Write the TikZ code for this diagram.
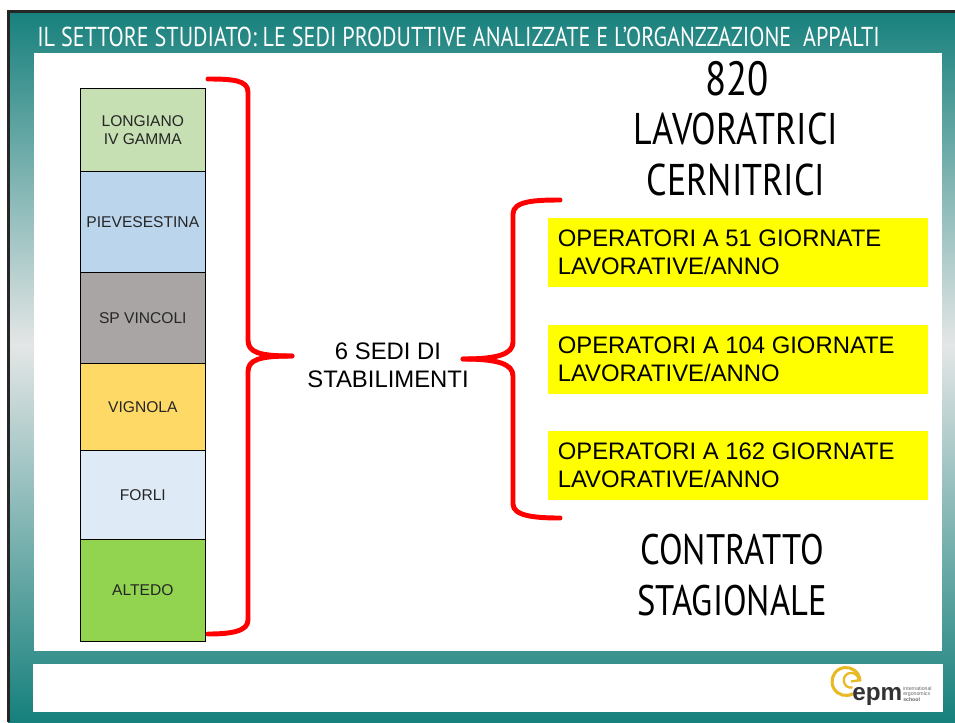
\documentclass[tikz,border=0pt]{standalone}
\usepackage{fontspec}
\setmainfont{Liberation Sans}
\newfontfamily\narrowfont[FakeStretch=0.81]{PT Sans}
\newfontfamily\logofont{Liberation Sans}
\definecolor{tealdark}{HTML}{16807C}
\definecolor{tealmid}{HTML}{E4E6E6}
\definecolor{redbr}{HTML}{FF0000}
\definecolor{ylw}{HTML}{FFFF00}
\definecolor{cLong}{HTML}{C6DFB3}
\definecolor{cPiev}{HTML}{BBD5ED}
\definecolor{cVinc}{HTML}{AAA5A5}
\definecolor{cVign}{HTML}{FFD966}
\definecolor{cForl}{HTML}{DEEAF6}
\definecolor{cAlte}{HTML}{92D350}
\definecolor{gold}{HTML}{E8B923}
\tikzset{
  x=0.75pt,y=-0.75pt,
  site/.style={draw=black,line width=0.8pt,minimum width=93.4pt,inner sep=0pt,align=center,text=black!85,
    font=\fontsize{11.7}{13.1}\selectfont,anchor=north west},
  opbox/.style={fill=ylw,minimum width=285pt,minimum height=51.75pt,inner sep=0pt,anchor=north west},
  optext/.style={anchor=west,align=left,inner sep=0pt,font=\fontsize{17.9}{21.2}\selectfont},
  bigtext/.style={inner sep=0pt,align=center,font=\narrowfont\fontsize{32}{36}\selectfont},
  bigtextb/.style={inner sep=0pt,align=center,font=\narrowfont\fontsize{33.3}{36}\selectfont},
  brace/.style={draw=redbr,line width=3.7pt,line cap=round,line join=round},
}
\begin{document}
\begin{tikzpicture}
\useasboundingbox (0,0) rectangle (955,722);
\fill[white] (0,0) rectangle (955,722);
% background
\shade[top color=tealdark,bottom color=tealmid] (8,10) rectangle (955,345);
\shade[top color=tealmid,bottom color=tealdark] (8,345) rectangle (955,722);
\fill[black!85] (7,10) rectangle (955,12.5);
\fill[black!85] (7,10) rectangle (10,722);
% panels
\fill[white] (34,53) rectangle (942,651);
\fill[white] (33,664) rectangle (943,712);
% title
\node[anchor=west,inner sep=0pt,text=white,font=\narrowfont\fontsize{20.5}{22}\selectfont] (title) at (37,37)
  {IL SETTORE STUDIATO: LE SEDI PRODUTTIVE ANALIZZATE E L’ORGANZZAZIONE\ \ APPALTI};
% column
\node[site,fill=cLong,minimum height=63.2pt] (longiano) at (80,87.5) {LONGIANO\\IV GAMMA};
\node[site,fill=cPiev,minimum height=75.7pt] (pieve) at (80,171) {PIEVESESTINA};
\node[site,fill=cVinc,minimum height=68.2pt] (vincoli) at (80,272) {SP VINCOLI};
\node[site,fill=cVign,minimum height=65.2pt] (vignola) at (80,363) {VIGNOLA};
\node[site,fill=cForl,minimum height=66.7pt] (forli) at (80,450) {FORLI};
\node[site,fill=cAlte,minimum height=76.5pt] (altedo) at (80,539) {ALTEDO};
% centre label
\node[inner sep=0pt,align=center,font=\fontsize{17.9}{21.2}\selectfont] (sedi) at (388,365) {6 SEDI DI\\STABILIMENTI};
% yellow boxes
\node[opbox] (op51) at (547.5,218) {};
\node[opbox] (op104) at (547.5,325) {};
\node[opbox] (op162) at (547.5,431) {};
\node[optext] at (557.5,252.5) {OPERATORI A 51 GIORNATE\\LAVORATIVE/ANNO};
\node[optext] at (557.5,359) {OPERATORI A 104 GIORNATE\\LAVORATIVE/ANNO};
\node[optext] at (557.5,465.5) {OPERATORI A 162 GIORNATE\\LAVORATIVE/ANNO};
% big texts
\node[inner sep=0pt,font=\narrowfont\fontsize{36}{38}\selectfont] (n820) at (737,79) {820};
\node[bigtextb] (lav) at (736,129) {LAVORATRICI};
\node[bigtextb] (cer) at (736,180) {CERNITRICI};
\node[bigtext] (con) at (732,550) {CONTRATTO};
\node[bigtext] (sta) at (732,601) {STAGIONALE};
% left brace
\coordinate (b1a) at (208,79);
\coordinate (b1b) at (208,634);
\coordinate (b1tip) at (292,356);
\draw[brace] (b1a) .. controls (232,79) and (248,80) .. (248,92)
  -- (248,340) .. controls (248,352) and (258,356) .. (b1tip);
\draw[brace] (b1tip) .. controls (258,356) and (248,360) .. (248,372)
  -- (248,620) .. controls (248,631) and (232,634) .. (b1b);
% right brace
\coordinate (b2a) at (560,200);
\coordinate (b2b) at (560,518);
\coordinate (b2tip) at (463,359);
\draw[brace] (b2a) .. controls (535,200) and (513,201) .. (513,214)
  -- (513,342) .. controls (513,354) and (498,359) .. (b2tip);
\draw[brace] (b2tip) .. controls (498,359) and (513,364) .. (513,376)
  -- (513,504) .. controls (513,516) and (535,518) .. (b2b);
% logo
\draw[gold,line width=2.3pt] (853,693.6) arc[start angle=-60,end angle=-360,radius=10.5pt];
\draw[gold,line width=1.7pt] (852.5,687.6) arc[start angle=-80,end angle=-360,radius=5.6pt] -- (851,681.5);
\node[anchor=base west,inner sep=0pt,text=black!80,font=\logofont\bfseries\fontsize{18.2}{18.2}\selectfont] (epm) at (852,700) {epm};
\node[anchor=west,inner sep=0pt,align=left,text=black!60,font=\logofont\fontsize{3.9}{4.4}\selectfont] (ies) at (903,694) {international\\ergonomics\\\textbf{school}};
\end{tikzpicture}
\end{document}
